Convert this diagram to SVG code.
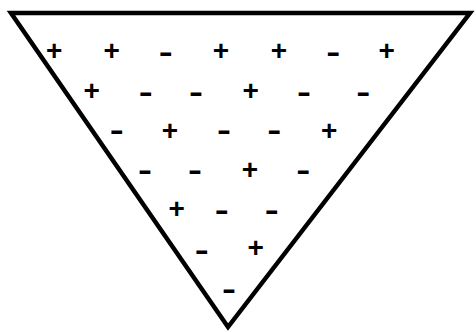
<svg xmlns="http://www.w3.org/2000/svg" width="476" height="332" viewBox="0 0 476 332">
<style>
.tri{fill:#fff;stroke:#000;stroke-width:4.5;stroke-linejoin:miter}
.p{font-family:"Liberation Sans",Arial,sans-serif;font-weight:bold;font-size:28px;text-anchor:middle;fill:#000}
.m{font-family:"Liberation Sans",Arial,sans-serif;font-weight:bold;font-size:30px;text-anchor:middle;fill:#000}
</style>
<rect width="476" height="332" fill="#fff"/>
<polygon class="tri" points="11,13 470,13 228,327"/>
<g id="charges">
<text class="p" x="54.3" y="59.7">+</text>
<text class="p" x="111.7" y="59.7">+</text>
<text class="m" x="165.7" y="62" textLength="14" lengthAdjust="spacingAndGlyphs">-</text>
<text class="p" x="221" y="59.7">+</text>
<text class="p" x="279" y="59.7">+</text>
<text class="m" x="333.3" y="62" textLength="14" lengthAdjust="spacingAndGlyphs">-</text>
<text class="p" x="386.7" y="59.7">+</text>

<text class="p" x="91.7" y="99.7">+</text>
<text class="m" x="145.7" y="102.3" textLength="14" lengthAdjust="spacingAndGlyphs">-</text>
<text class="m" x="196" y="102.3" textLength="14" lengthAdjust="spacingAndGlyphs">-</text>
<text class="p" x="250.7" y="99.7">+</text>
<text class="m" x="304" y="102.3" textLength="14" lengthAdjust="spacingAndGlyphs">-</text>
<text class="m" x="363.3" y="102.3" textLength="14" lengthAdjust="spacingAndGlyphs">-</text>

<text class="m" x="116.7" y="140.3" textLength="14" lengthAdjust="spacingAndGlyphs">-</text>
<text class="p" x="170" y="139.7">+</text>
<text class="m" x="224" y="140.3" textLength="14" lengthAdjust="spacingAndGlyphs">-</text>
<text class="m" x="274.3" y="140.3" textLength="14" lengthAdjust="spacingAndGlyphs">-</text>
<text class="p" x="329.3" y="139.7">+</text>

<text class="m" x="145" y="179.7" textLength="14" lengthAdjust="spacingAndGlyphs">-</text>
<text class="m" x="195" y="179.7" textLength="14" lengthAdjust="spacingAndGlyphs">-</text>
<text class="p" x="250" y="179">+</text>
<text class="m" x="303.3" y="179.7" textLength="14" lengthAdjust="spacingAndGlyphs">-</text>

<text class="p" x="176.7" y="218">+</text>
<text class="m" x="221.7" y="219.7" textLength="14" lengthAdjust="spacingAndGlyphs">-</text>
<text class="m" x="271.7" y="219.7" textLength="14" lengthAdjust="spacingAndGlyphs">-</text>

<text class="m" x="201.7" y="259.7" textLength="14" lengthAdjust="spacingAndGlyphs">-</text>
<text class="p" x="255.7" y="257.4">+</text>

<text class="m" x="229" y="298.7" textLength="14" lengthAdjust="spacingAndGlyphs">-</text>
</g>
</svg>
